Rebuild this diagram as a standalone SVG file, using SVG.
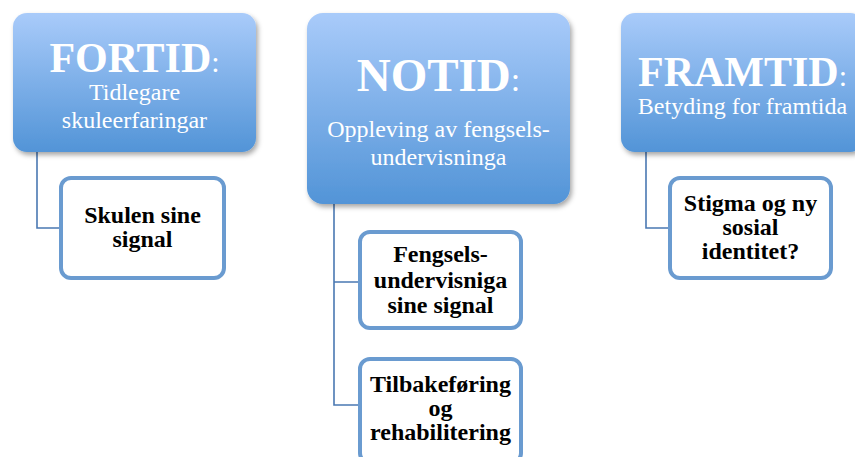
<svg xmlns="http://www.w3.org/2000/svg" width="855" height="457" viewBox="0 0 855 457">
<defs>
<linearGradient id="hg" x1="0" y1="0" x2="0" y2="1">
<stop offset="0" stop-color="#a9cbfa"/>
<stop offset="1" stop-color="#5294d7"/>
</linearGradient>
<filter id="sh" x="-10%" y="-10%" width="130%" height="130%">
<feDropShadow dx="2" dy="3" stdDeviation="2.5" flood-color="#000" flood-opacity="0.35"/>
</filter>
<style>
.head{fill:url(#hg);filter:url(#sh);}
.child{fill:#fff;stroke:#6a9bd0;stroke-width:4;}
.conn{fill:none;stroke:#4a78b2;stroke-width:1.6;}
.ht{font-family:"Liberation Serif","Times New Roman",serif;fill:#fff;text-anchor:middle;}
.hb{font-weight:bold;}
.ct{font-family:"Liberation Serif","Times New Roman",serif;font-weight:bold;font-size:24px;fill:#000;text-anchor:middle;}
</style>
</defs>
<rect width="855" height="457" fill="#fff"/>
<g id="connectors">
<path class="conn" d="M37 150 V228 H61"/>
<path class="conn" d="M334 202 V405 H360 M334 282 H360"/>
<path class="conn" d="M646 150 V228 H670"/>
</g>
<g id="fortid">
<rect class="head" x="13" y="13" width="243" height="139" rx="14"/>
<text class="ht" x="134.5" y="72"><tspan class="hb" font-size="42">FORTID</tspan><tspan font-size="30">:</tspan></text>
<text class="ht" x="134.5" y="100" font-size="24">Tidlegare</text>
<text class="ht" x="134.5" y="128" font-size="24">skuleerfaringar</text>
</g>
<g id="notid">
<rect class="head" x="307" y="13" width="263" height="191" rx="16"/>
<text class="ht" x="438.5" y="91"><tspan class="hb" font-size="47">NOTID</tspan><tspan font-size="34">:</tspan></text>
<text class="ht" x="438.5" y="137" font-size="24">Oppleving av fengsels-</text>
<text class="ht" x="438.5" y="165" font-size="24">undervisninga</text>
</g>
<g id="framtid">
<rect class="head" x="621" y="13" width="243" height="139" rx="14"/>
<text class="ht" x="742.5" y="86"><tspan class="hb" font-size="42">FRAMTID</tspan><tspan font-size="30">:</tspan></text>
<text class="ht" x="742.5" y="114" font-size="24">Betyding for framtida</text>
</g>
<g id="skulen">
<rect class="child" x="61" y="178" width="163" height="100" rx="10"/>
<text class="ct" x="142.5" y="223">Skulen sine</text>
<text class="ct" x="142.5" y="247">signal</text>
</g>
<g id="fengsels">
<rect class="child" x="360" y="232" width="161" height="96" rx="10"/>
<text class="ct" x="440.5" y="262">Fengsels-</text>
<text class="ct" x="440.5" y="288">undervisniga</text>
<text class="ct" x="440.5" y="313">sine signal</text>
</g>
<g id="tilbakeforing">
<rect class="child" x="360" y="359" width="161" height="104" rx="10"/>
<text class="ct" x="440.5" y="392">Tilbakeføring</text>
<text class="ct" x="440.5" y="416">og</text>
<text class="ct" x="440.5" y="440">rehabilitering</text>
</g>
<g id="stigma">
<rect class="child" x="670" y="178" width="161" height="100" rx="10"/>
<text class="ct" x="750.5" y="211">Stigma og ny</text>
<text class="ct" x="750.5" y="235">sosial</text>
<text class="ct" x="750.5" y="259">identitet?</text>
</g>
</svg>
